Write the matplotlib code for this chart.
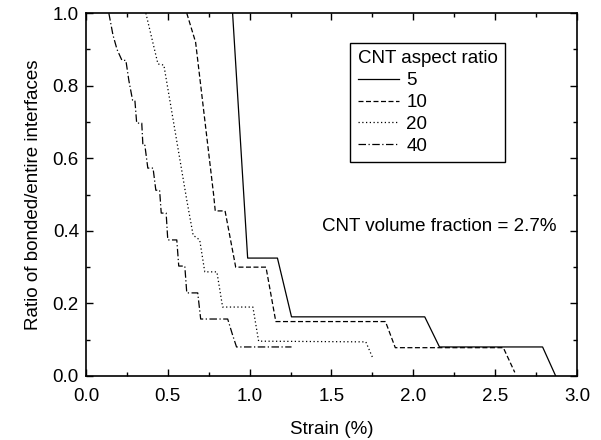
import numpy as np
import matplotlib
matplotlib.use("Agg")
from matplotlib import pyplot as plt
from matplotlib.ticker import MultipleLocator, FormatStrFormatter

plt.rcParams["font.family"] = ["Liberation Sans", "DejaVu Sans"]

# Data
ar5_x = [0.896, 0.988, 1.17, 1.256, 2.07, 2.16, 2.79, 2.87]
ar5_y = [1.0, 0.325, 0.325, 0.163, 0.163, 0.08, 0.08, 0.0]

ar10_x = [0.616, 0.67, 0.78, 0.79, 0.85, 0.915, 1.10, 1.16, 1.83, 1.89, 2.55, 2.62]
ar10_y = [1.0, 0.92, 0.50, 0.455, 0.455, 0.30, 0.30, 0.15, 0.15, 0.078, 0.078, 0.01]

ar20_x = [0.366, 0.44, 0.476, 0.616, 0.655, 0.695, 0.726, 0.80, 0.835, 1.02,
          1.055, 1.71, 1.75]
ar20_y = [1.0, 0.86, 0.857, 0.485, 0.388, 0.375, 0.287, 0.287, 0.19, 0.19,
          0.096, 0.094, 0.052]

ar40_x = [0.14, 0.165, 0.19, 0.22, 0.244, 0.262, 0.285, 0.299, 0.31, 0.341,
          0.348, 0.36, 0.378, 0.41, 0.427, 0.45, 0.46, 0.49, 0.50, 0.555,
          0.567, 0.604, 0.616, 0.683, 0.701, 0.866, 0.896, 0.92, 1.256]
ar40_y = [1.0, 0.94, 0.90, 0.87, 0.87, 0.815, 0.76, 0.76, 0.697, 0.697,
          0.636, 0.636, 0.573, 0.573, 0.512, 0.512, 0.449, 0.449, 0.375, 0.375,
          0.303, 0.303, 0.229, 0.229, 0.157, 0.157, 0.113, 0.08, 0.08]

labels = ["5", "10", "20", "40"]
styles = ["-", (0, (4, 2)), (0, (1, 2)), (0, (6, 2, 1, 2))]
fs = 13.5

fig = plt.figure(figsize=(6.01, 4.4), dpi=100)
ax = fig.add_axes([0.143, 0.1455, 0.817, 0.8245])

for xs, ys, lab, ls in zip([ar5_x, ar10_x, ar20_x, ar40_x],
                           [ar5_y, ar10_y, ar20_y, ar40_y], labels, styles):
    ax.plot(xs, ys, color="black", linewidth=0.9, linestyle=ls, label=lab)

ax.set_xlim(0, 3.0)
ax.set_ylim(0, 1.0)
ax.xaxis.set_major_locator(MultipleLocator(0.5))
ax.xaxis.set_minor_locator(MultipleLocator(0.25))
ax.yaxis.set_major_locator(MultipleLocator(0.2))
ax.yaxis.set_minor_locator(MultipleLocator(0.1))
ax.tick_params(which="both", direction="in", top=True, right=True,
               labelsize=fs, width=1)
ax.tick_params(which="major", length=5)
ax.tick_params(which="minor", length=3)
ax.tick_params(axis="x", which="major", pad=9)
ax.tick_params(axis="y", which="major", pad=5)
ax.xaxis.set_major_formatter(FormatStrFormatter("%.1f"))
ax.yaxis.set_major_formatter(FormatStrFormatter("%.1f"))
for s in ax.spines.values():
    s.set_linewidth(1.2)

ax.set_xlabel("Strain (%)", fontsize=fs, labelpad=11)
ax.set_ylabel("Ratio of bonded/entire interfaces", fontsize=fs, labelpad=8)

leg = ax.legend(title="CNT aspect ratio", loc="upper left",
                bbox_to_anchor=(0.538, 0.918), fontsize=fs, title_fontsize=fs,
                fancybox=False, edgecolor="black", framealpha=1,
                handlelength=2.2, handletextpad=0.4, labelspacing=0.25,
                borderpad=0.4, borderaxespad=0)
leg._legend_box.align = "left"
leg.get_frame().set_linewidth(1.0)

ax.text(1.44, 0.413, "CNT volume fraction = 2.7%", fontsize=fs,
        ha="left", va="center")

fig.savefig("out.png", dpi=100)
